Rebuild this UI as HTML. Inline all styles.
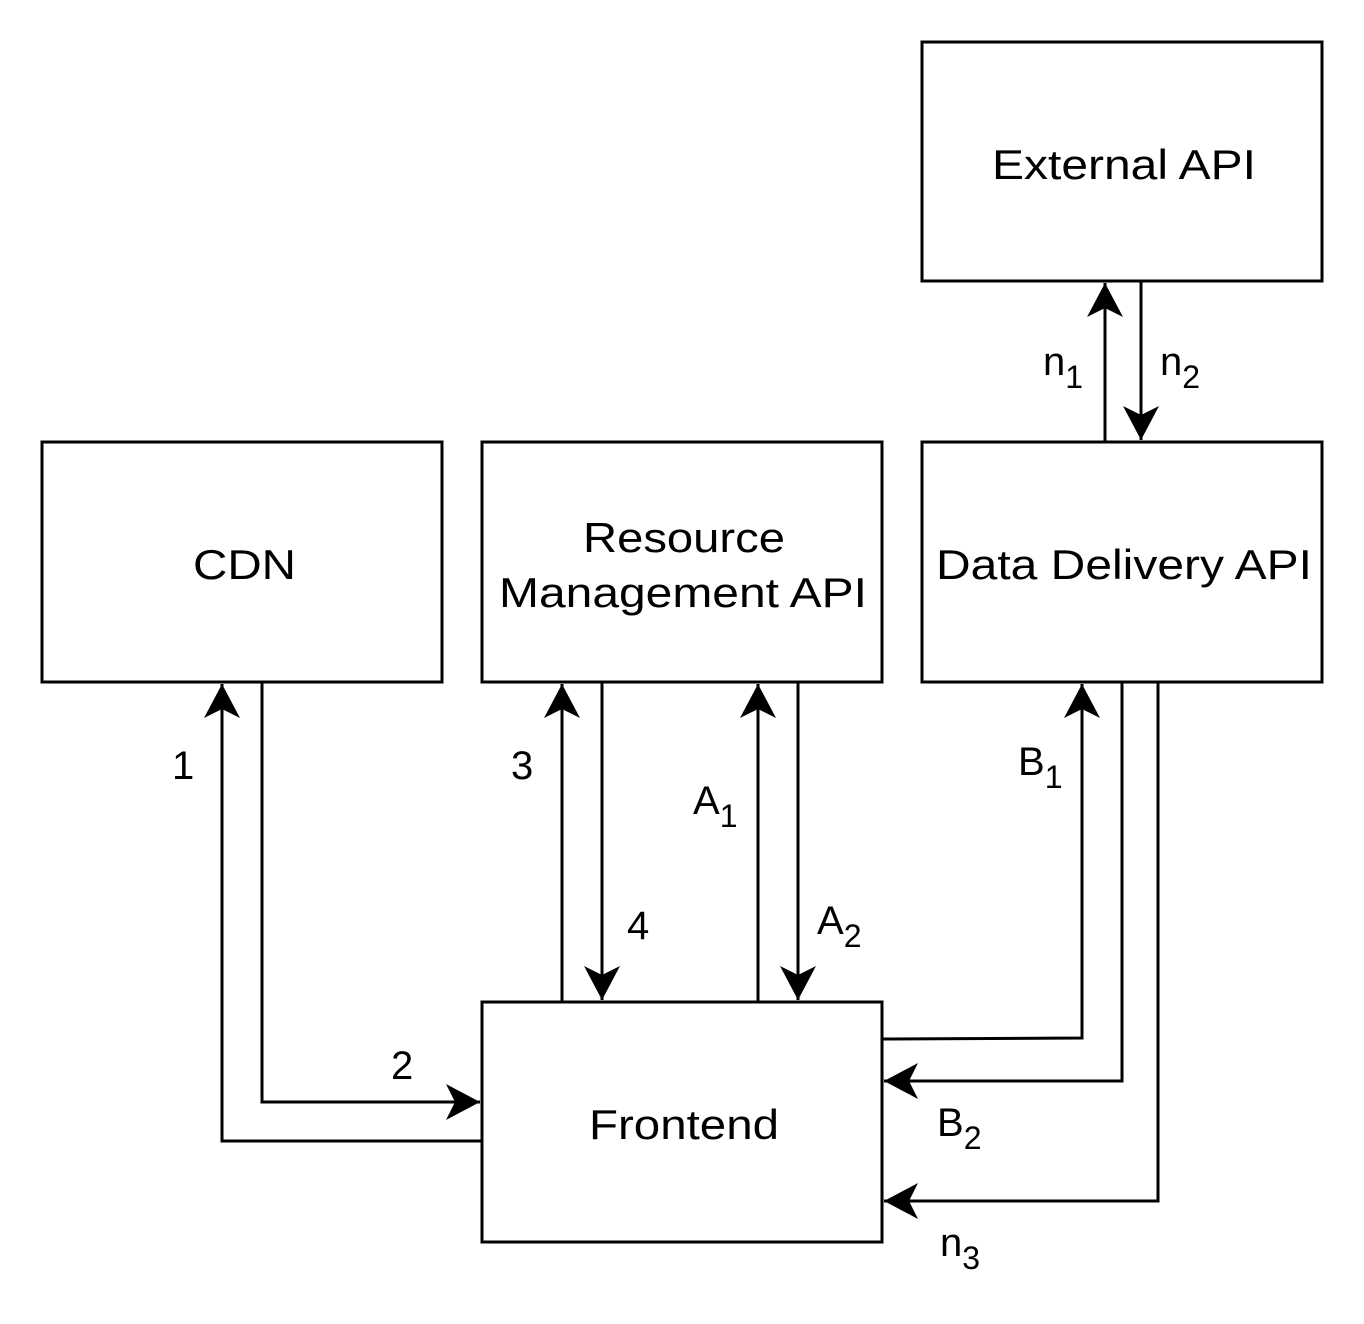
<!DOCTYPE html>
<html><head><meta charset="utf-8"><style>
html,body{margin:0;padding:0;background:#fff;}
svg{display:block;}
text{font-family:"Liberation Sans",Arial,sans-serif;fill:#000;}
</style></head><body>
<svg width="1364" height="1324" viewBox="0 0 1364 1324" xmlns="http://www.w3.org/2000/svg">
<defs>
<marker id="a" markerUnits="userSpaceOnUse" markerWidth="40" markerHeight="40" viewBox="0 0 40 40" refX="36" refY="20" orient="auto">
<path d="M36,20 L2,2 L11,20 L2,38 Z" fill="#000"/>
</marker>
</defs>
<g fill="none" stroke="#000" stroke-width="3">
<rect x="922" y="42" width="400" height="239"/>
<rect x="42" y="442" width="400" height="240"/>
<rect x="482" y="442" width="400" height="240"/>
<rect x="922" y="442" width="400" height="240"/>
<rect x="482" y="1002" width="400" height="240"/>
</g>
<g fill="none" stroke="#000" stroke-width="3">
<polyline points="482,1141 222,1141 222,684" marker-end="url(#a)"/>
<polyline points="262,682 262,1102 480,1102" marker-end="url(#a)"/>
<polyline points="562,1002 562,684" marker-end="url(#a)"/>
<polyline points="602,682 602,1000" marker-end="url(#a)"/>
<polyline points="758,1002 758,684" marker-end="url(#a)"/>
<polyline points="798,682 798,1000" marker-end="url(#a)"/>
<polyline points="882,1039 1082,1038 1082,684" marker-end="url(#a)"/>
<polyline points="1122,682 1122,1081 884,1081" marker-end="url(#a)"/>
<polyline points="1158,682 1158,1201 884,1201" marker-end="url(#a)"/>
<polyline points="1105,442 1105,283" marker-end="url(#a)"/>
<polyline points="1141,281 1141,440" marker-end="url(#a)"/>
</g>
<g font-size="42">
<text x="992" y="179" textLength="264" lengthAdjust="spacingAndGlyphs">External API</text>
<text x="193" y="579" textLength="103" lengthAdjust="spacingAndGlyphs">CDN</text>
<text x="583" y="552" textLength="202" lengthAdjust="spacingAndGlyphs">Resource</text>
<text x="499" y="607" textLength="368" lengthAdjust="spacingAndGlyphs">Management API</text>
<text x="936" y="579" textLength="376" lengthAdjust="spacingAndGlyphs">Data Delivery API</text>
<text x="589" y="1139" textLength="190" lengthAdjust="spacingAndGlyphs">Frontend</text>
</g>
<g font-size="40">
<text x="172" y="779">1</text>
<text x="391" y="1079">2</text>
<text x="511" y="779">3</text>
<text x="627" y="939">4</text>
<text x="693" y="814">A<tspan font-size="32" dy="13">1</tspan></text>
<text x="817" y="934">A<tspan font-size="32" dy="13">2</tspan></text>
<text x="1018" y="775">B<tspan font-size="32" dy="13">1</tspan></text>
<text x="937" y="1136">B<tspan font-size="32" dy="13">2</tspan></text>
<text x="940" y="1256">n<tspan font-size="32" dy="13">3</tspan></text>
<text x="1043" y="375">n<tspan font-size="32" dy="13">1</tspan></text>
<text x="1160" y="375">n<tspan font-size="32" dy="13">2</tspan></text>
</g>
</svg>
</body></html>
